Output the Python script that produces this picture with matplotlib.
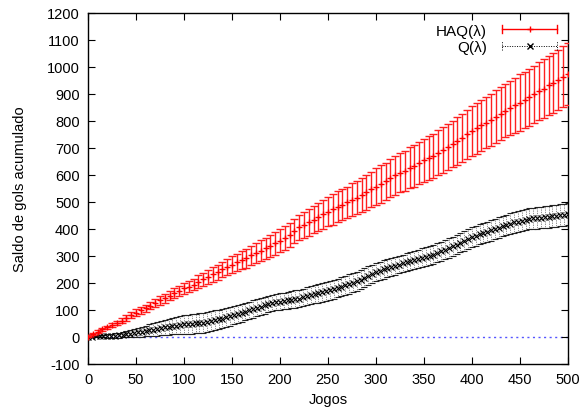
import numpy as np
import matplotlib
matplotlib.use("Agg")
import matplotlib.pyplot as plt
from matplotlib.legend_handler import HandlerBase
from matplotlib.lines import Line2D

plt.rcParams["font.family"] = ["Liberation Sans", "DejaVu Sans"]
plt.rcParams["font.size"] = 10.5
plt.rcParams["axes.unicode_minus"] = False

# HAQ(lambda): one point every 5 games
haq_games = list(range(0, 501, 5))
haq_mean = [
    0, 12, 20, 28, 36, 44, 52, 60, 70, 80,
    90, 98, 107, 116, 126, 135, 143, 152, 162, 170,
    180, 186, 194, 204, 213, 222, 232, 240, 250, 258,
    268, 276, 284, 292, 302, 312, 320, 328, 338, 346,
    356, 366, 378, 392, 406, 414, 424, 434, 444, 454,
    464, 472, 482, 490, 498, 508, 516, 526, 536, 546,
    556, 566, 576, 588, 598, 608, 616, 626, 634, 644,
    654, 662, 670, 682, 692, 704, 714, 726, 738, 750,
    762, 772, 784, 794, 804, 816, 826, 838, 848, 858,
    868, 878, 888, 898, 910, 920, 932, 942, 952, 964,
    974,
]
haq_err = [
    2, 4, 5, 5, 6, 7, 8, 9, 10, 11,
    12, 12, 13, 14, 15, 16, 16, 17, 18, 19,
    20, 21, 22, 24, 25, 26, 27, 28, 29, 30,
    31, 32, 33, 35, 36, 37, 38, 40, 41, 42,
    43, 44, 45, 46, 46, 47, 49, 50, 52, 53,
    55, 56, 57, 58, 59, 61, 62, 63, 65, 66,
    68, 69, 70, 71, 72, 73, 74, 76, 77, 78,
    80, 81, 82, 83, 84, 85, 86, 88, 89, 90,
    92, 93, 94, 95, 96, 97, 98, 99, 101, 102,
    104, 105, 106, 107, 108, 109, 110, 111, 112, 114,
    115,
]

# Q(lambda): one point every 4 games
q_games = list(range(0, 501, 4))
q_mean = [
    0, 1, 2, 2, 3, 3, 4, 5, 6, 8,
    10, 12, 15, 17, 19, 22, 24, 27, 30, 33,
    35, 37, 40, 42, 44, 46, 47, 48, 50, 51,
    53, 56, 59, 62, 65, 68, 72, 76, 80, 84,
    88, 93, 98, 103, 108, 112, 117, 121, 125, 128,
    131, 134, 136, 138, 140, 142, 146, 150, 154, 158,
    161, 165, 169, 173, 177, 181, 186, 191, 196, 201,
    206, 212, 219, 226, 233, 240, 245, 250, 255, 259,
    263, 268, 272, 276, 281, 285, 289, 293, 297, 301,
    305, 311, 317, 323, 329, 335, 342, 349, 356, 363,
    370, 375, 380, 385, 390, 395, 400, 405, 410, 415,
    420, 424, 427, 431, 434, 437, 439, 441, 442, 444,
    445, 447, 449, 451, 453, 455,
]
q_err = [
    1, 2, 3, 4, 5, 6, 7, 8, 9, 10,
    11, 13, 14, 16, 18, 20, 22, 24, 26, 27,
    29, 30, 31, 33, 34, 35, 35, 36, 36, 37,
    37, 37, 36, 36, 35, 35, 34, 34, 33, 33,
    33, 32, 32, 32, 31, 31, 31, 30, 30, 30,
    30, 30, 31, 31, 32, 32, 33, 33, 33, 34,
    34, 34, 35, 35, 35, 35, 36, 36, 36, 36,
    36, 36, 35, 35, 35, 34, 34, 34, 34, 33,
    33, 33, 33, 33, 34, 34, 34, 35, 35, 35,
    35, 35, 35, 36, 36, 36, 36, 36, 36, 37,
    37, 37, 37, 37, 37, 38, 38, 38, 38, 38,
    38, 38, 39, 39, 39, 39, 39, 40, 40, 40,
    40, 40, 41, 41, 41, 41,
]

x_ticks = list(range(0, 501, 50))
y_ticks = list(range(-100, 1201, 100))


class HandlerGnuErr(HandlerBase):
    """Gnuplot-like errorbar key: horizontal bar with end caps and a centre marker."""

    def __init__(self, color, marker, ls, lw):
        super().__init__()
        self.color = color
        self.marker = marker
        self.ls = ls
        self.lw = lw

    def create_artists(self, legend, orig_handle, xdescent, ydescent,
                       width, height, fontsize, trans):
        y = height / 2 - ydescent
        x0, x1 = -xdescent, width - xdescent
        h = 3
        kw = dict(color=self.color, lw=self.lw, ls=self.ls, transform=trans)
        bar = Line2D([x0, x1], [y, y], **kw)
        cap0 = Line2D([x0, x0], [y - h, y + h], **kw)
        cap1 = Line2D([x1, x1], [y - h, y + h], **kw)
        mid = Line2D([(x0 + x1) / 2], [y], color=self.color, marker=self.marker,
                     ms=5, mew=1.0, ls="none", transform=trans)
        return [bar, cap0, cap1, mid]


fig = plt.figure(figsize=(5.83, 4.10), dpi=100)
ax = fig.add_axes([0.151, 0.110, 0.823, 0.856])

ax.axhline(0, color="#5555ff", lw=1.0, ls=(0, (1.5, 2.5)), zorder=1)

q = ax.errorbar(q_games, q_mean, yerr=q_err, fmt="x", color="black",
                ms=5, mew=0.8, elinewidth=0.5, capsize=2, capthick=0.5,
                ecolor="#222222", zorder=2)
for coll in q[2]:
    coll.set_linestyle((0, (1, 1.5)))

h = ax.errorbar(haq_games, haq_mean, yerr=haq_err, fmt="+", color="red",
                ms=5, mew=1.0, elinewidth=1.0, capsize=3, capthick=1.0,
                ecolor="#ff2020", zorder=3)

ax.set_xlim(0, 500)
ax.set_ylim(-100, 1200)
ax.set_xticks(x_ticks)
ax.set_yticks(y_ticks)
ax.tick_params(direction="in", top=True, right=True, length=5, width=0.8,
               pad=6, labelsize=10.5)
for s in ax.spines.values():
    s.set_linewidth(1.0)

ax.set_xlabel("Jogos", fontsize=10.5, labelpad=4)
ax.set_ylabel("Saldo de gols acumulado", fontsize=10.5, labelpad=14)

hk = Line2D([], [])
qk = Line2D([], [])
ax.legend([hk, qk], ["HAQ(λ)", "Q(λ)"],
          handler_map={hk: HandlerGnuErr("red", "+", "-", 1.0),
                       qk: HandlerGnuErr("black", "x", (0, (1, 1.5)), 0.7)},
          loc="upper right", frameon=False, markerfirst=False,
          handlelength=3.6, handletextpad=1.0, labelspacing=0.15,
          borderaxespad=0.3, fontsize=11)

fig.savefig("out.png", dpi=100)
